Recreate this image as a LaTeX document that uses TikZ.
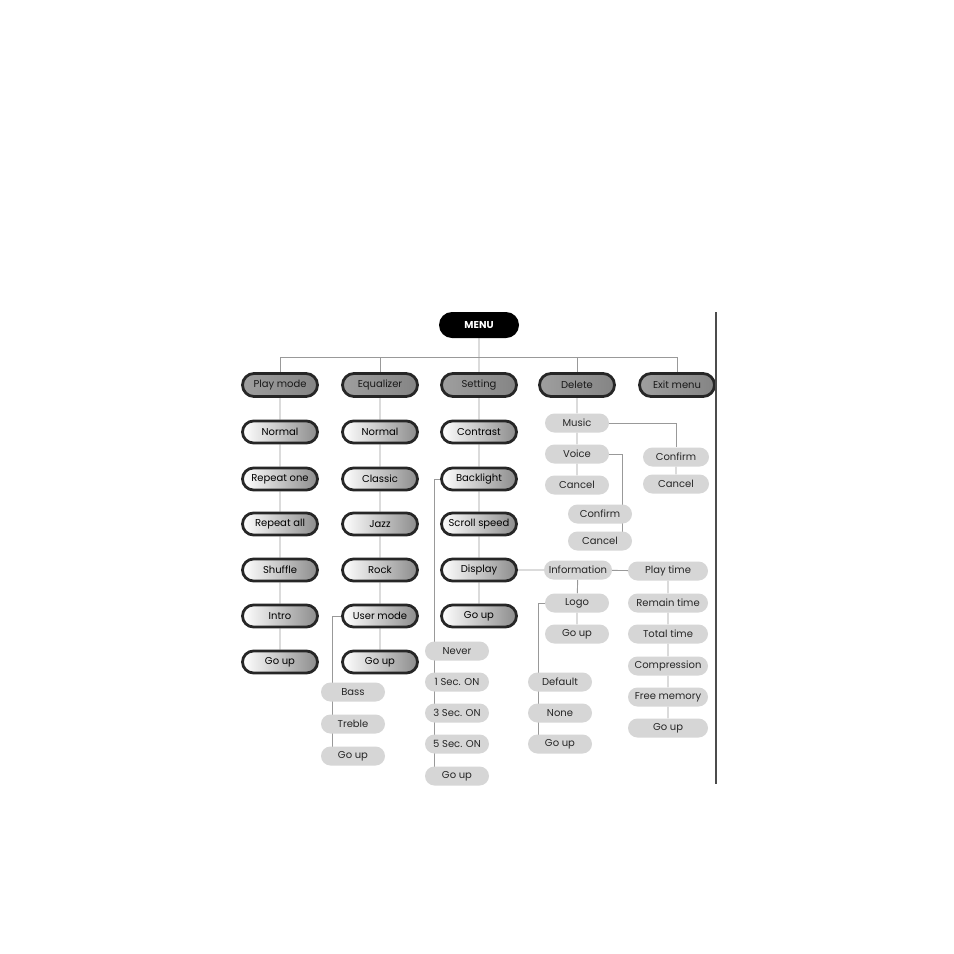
\documentclass[tikz,border=0pt]{standalone}
\usepackage{fontspec}
\setmainfont{Poppins}
\usetikzlibrary{shapes.misc,backgrounds}
\begin{document}
\begin{tikzpicture}[x=1pt,y=-1pt,
  topbox/.style={rounded rectangle, fill=black, text=white, minimum width=82pt, minimum height=26pt, inner sep=1pt, font=\bfseries\fontsize{10}{11}\selectfont},
  lvlbox/.style={rounded rectangle, draw=black!85, line width=2.8pt, left color=black!38, right color=black!48, text=black!90, minimum width=77pt, minimum height=23pt, inner sep=1pt, font=\fontsize{10}{11}\selectfont},
  itembox/.style={rounded rectangle, draw=black!85, line width=2.8pt, left color=white, right color=black!45, text=black, minimum width=77pt, minimum height=22pt, inner sep=1pt, font=\fontsize{10}{11}\selectfont},
  subbox/.style={rounded rectangle, fill=black!16, draw=none, text=black!85, minimum width=66pt, minimum height=19pt, inner sep=1pt, font=\fontsize{10}{11}\selectfont},
  widebox/.style={subbox, minimum width=82pt},
  conn/.style={draw=gray!80, line width=0.9pt}
]
\useasboundingbox (0,0) rectangle (954,954);

% root and level 1
\node[topbox] (menu) at (479,325) {MENU};
\node[lvlbox] (pm) at (280,385) {Play mode};
\node[lvlbox] (eq) at (380,385) {Equalizer};
\node[lvlbox] (se) at (479,385) {Setting};
\node[lvlbox] (de) at (577,385) {Delete};
\node[lvlbox] (ex) at (677,385) {Exit menu};
\coordinate (bus) at (479,357);

% Play mode column
\node[itembox] (p1) at (280,432) {Normal};
\node[itembox] (p2) at (280,479) {Repeat one};
\node[itembox] (p3) at (280,524) {Repeat all};
\node[itembox] (p4) at (280,570) {Shuffle};
\node[itembox] (p5) at (280,616) {Intro};
\node[itembox] (p6) at (280,662) {Go up};

% Equalizer column
\node[itembox] (q1) at (380,432) {Normal};
\node[itembox] (q2) at (380,479) {Classic};
\node[itembox] (q3) at (380,524) {Jazz};
\node[itembox] (q4) at (380,570) {Rock};
\node[itembox] (q5) at (380,616) {User mode};
\node[itembox] (q6) at (380,662) {Go up};
\node[subbox] (u1) at (353,692) {Bass};
\node[subbox] (u2) at (353,724) {Treble};
\node[subbox] (u3) at (353,756) {Go up};

% Setting column
\node[itembox] (s1) at (479,432) {Contrast};
\node[itembox] (s2) at (479,479) {Backlight};
\node[itembox] (s3) at (479,524) {Scroll speed};
\node[itembox] (s4) at (479,570) {Display};
\node[itembox] (s5) at (479,616) {Go up};
\node[subbox] (b1) at (457,651) {Never};
\node[subbox] (b2) at (457,682) {1 Sec. ON};
\node[subbox] (b3) at (457,713) {3 Sec. ON};
\node[subbox] (b4) at (457,744) {5 Sec. ON};
\node[subbox] (b5) at (457,776) {Go up};

% Display subtree
\node[subbox, minimum width=70pt] (inf) at (578,570) {Information};
\node[subbox] (lg) at (577,603) {Logo};
\node[subbox] (lgo) at (577,634) {Go up};
\node[subbox] (l1) at (560,682) {Default};
\node[subbox] (l2) at (560,713) {None};
\node[subbox] (l3) at (560,744) {Go up};
\node[widebox] (t1) at (668,571) {Play time};
\node[widebox] (t2) at (668,603) {Remain time};
\node[widebox] (t3) at (668,634) {Total time};
\node[widebox] (t4) at (668,666) {Compression};
\node[widebox] (t5) at (668,697) {Free memory};
\node[widebox] (t6) at (668,728) {Go up};

% Delete subtree
\node[subbox] (d1) at (577,423) {Music};
\node[subbox] (d2) at (577,454) {Voice};
\node[subbox] (d3) at (577,485) {Cancel};
\node[subbox, minimum width=68pt] (m1) at (676,457) {Confirm};
\node[subbox, minimum width=68pt] (m2) at (676,484) {Cancel};
\node[subbox] (v1) at (600,514) {Confirm};
\node[subbox] (v2) at (600,541) {Cancel};

% right rule
\draw[black!70, line width=1.8pt] (716,312) -- (716,784);

\begin{scope}[on background layer]
  \fill[white] (0,0) rectangle (954,954);
  \draw[conn] (menu) -- (se);
  \draw[conn] (pm) |- (bus) -| (ex);
  \draw[conn] (eq) |- (bus);
  \draw[conn] (de) |- (bus);
  \draw[conn] (pm) -- (p1) -- (p2) -- (p3) -- (p4) -- (p5) -- (p6);
  \draw[conn] (eq) -- (q1) -- (q2) -- (q3) -- (q4) -- (q5) -- (q6);
  \draw[conn] (q5.west) -| ([xshift=12pt]u3.west);
  \draw[conn] (se) -- (s1) -- (s2) -- (s3) -- (s4) -- (s5);
  \draw[conn] (s2.west) -| ([xshift=10pt]b5.west);
  \draw[conn] (s4) -- (inf) -- (t1);
  \draw[conn] (inf) -- (lg) -- (lgo);
  \draw[conn] (lg.west) -| ([xshift=11pt]l3.west);
  \draw[conn] (t1) -- (t2) -- (t3) -- (t4) -- (t5) -- (t6);
  \draw[conn] (de) -- (d1) -- (d2) -- (d3);
  \draw[conn] (d1.east) -| (m1.north);
  \draw[conn] (m1) -- (m2);
  \draw[conn] (d2.east) -| ([xshift=-10pt]v2.east);
\end{scope}
\end{tikzpicture}
\end{document}
